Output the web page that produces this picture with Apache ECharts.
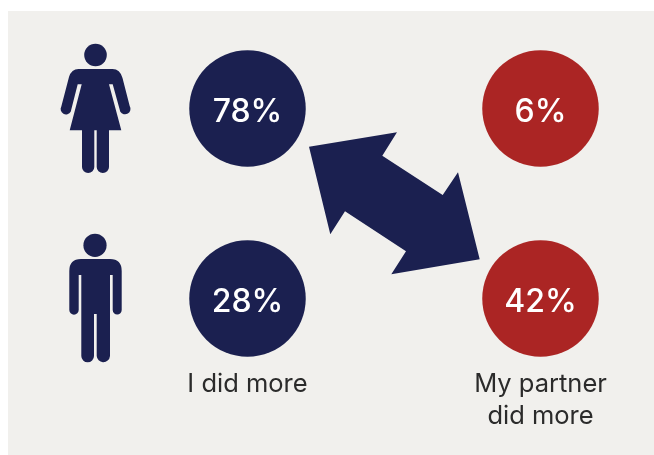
<!DOCTYPE html>
<html>
<head>
<meta charset="utf-8">
<style>
  html, body { margin: 0; padding: 0; background: #ffffff; }
  #chart { width: 654px; height: 455px; }
</style>
<script src="https://cdn.jsdelivr.net/npm/echarts@6/dist/echarts.min.js"></script>
</head>
<body>
<div id="chart"></div>
<script>
// Who did more of the work, by respondent gender
const answers = ['I did more', 'My partner\ndid more'];
const genders = ['Women', 'Men'];
const iDidMore = [78, 28];
const partnerDidMore = [6, 42];

const NAVY = '#1b2050';
const RED = '#ab2524';
const PANEL = '#f1f0ed';
const FONT = 'Inter, "Noto Sans", sans-serif';

const womanIcon = 'M78.5 69 L112.5 69 Q120 69 122.5 78 L129.7 106 A5 5 0 0 1 120.3 111.7 L112.7 84.3 L109 84.3 L121.3 130.3 L109 130.3 L109 166.9 A6.15 6.15 0 0 1 96.7 166.9 L96.7 130.3 L94.3 130.3 L94.3 166.9 A6.15 6.15 0 0 1 82 166.9 L82 130.3 L69.7 130.3 L81.7 84.3 L77.7 84.3 L70.7 111.7 A5 5 0 0 1 61.3 106.5 L69 77 Q71.5 69 78.5 69 Z';
const manIcon = 'M81 259 L110 259 Q121.7 259 121.7 271 L121.7 310 A4.5 4.5 0 0 1 112.7 310 L112.7 275 L110 275 L110 356 A6.67 6.67 0 0 1 96.7 356 L96.7 314 L94 314 L94 356 A6.35 6.35 0 0 1 81.3 356 L81.3 275 L78.7 275 L78.7 310 A4.7 4.7 0 0 1 69.3 310 L69.3 271 Q69.3 259 81 259 Z';
const icons = [
  { body: womanIcon, head: { cx: 95.5, cy: 55, r: 11.3 } },
  { body: manIcon, head: { cx: 95, cy: 245.3, r: 11.6 } }
];
const arrowOutline = [
  [309, 146.7], [397, 132.3], [382.3, 155.7], [442.7, 195], [458, 172.3],
  [479.7, 259.3], [391.3, 274.3], [406, 251.3], [345, 211.3], [330.3, 234.3]
];

// One circle per gender and answer, labelled with its share
const circles = (values, colIndex, color) => ({
  type: 'scatter',
  symbol: 'circle',
  symbolSize: 116.5,
  clip: false,
  itemStyle: { color: color, opacity: 1 },
  label: {
    show: true,
    position: 'inside',
    formatter: p => p.value[2] + '%',
    color: '#ffffff',
    fontFamily: FONT,
    fontSize: 32,
    fontWeight: 500,
    offset: [0, 4]
  },
  emphasis: { disabled: true },
  data: values.map((v, i) => [colIndex, i, v])
});

// Pictogram at the head of each gender's row
const genderIcons = {
  type: 'custom',
  silent: true,
  clip: false,
  data: genders.map((g, i) => [0, i]),
  renderItem: (params) => {
    const icon = icons[params.dataIndex];
    return {
      type: 'group',
      children: [
        { type: 'path', shape: { pathData: icon.body }, style: { fill: NAVY } },
        { type: 'circle', shape: icon.head, style: { fill: NAVY } }
      ]
    };
  }
};

const chart = echarts.init(document.getElementById('chart'), null, { renderer: 'canvas' });
chart.setOption({
  animation: false,
  backgroundColor: '#ffffff',
  // The grid runs between the circle centres, so each category sits on a grid edge
  grid: { left: 247.5, width: 293, top: 108.5, height: 190, outerBoundsMode: 'none' },
  xAxis: {
    type: 'category',
    boundaryGap: false,
    data: answers,
    axisLine: { show: false },
    axisTick: { show: false },
    splitLine: { show: false },
    axisLabel: {
      margin: 70,
      color: '#2b2b2b',
      fontFamily: FONT,
      fontSize: 25.5,
      lineHeight: 32,
      verticalAlign: 'top',
      interval: 0,
      showMinLabel: true,
      showMaxLabel: true
    }
  },
  yAxis: {
    type: 'category',
    boundaryGap: false,
    inverse: true,
    data: genders,
    show: false
  },
  graphic: [
    { type: 'rect', z: -10, shape: { x: 8, y: 11, width: 646, height: 444 }, style: { fill: PANEL } },
    { type: 'polygon', z: 5, shape: { points: arrowOutline }, style: { fill: NAVY } }
  ],
  series: [
    genderIcons,
    circles(iDidMore, 0, NAVY),
    circles(partnerDidMore, 1, RED)
  ]
});
</script>
</body>
</html>
